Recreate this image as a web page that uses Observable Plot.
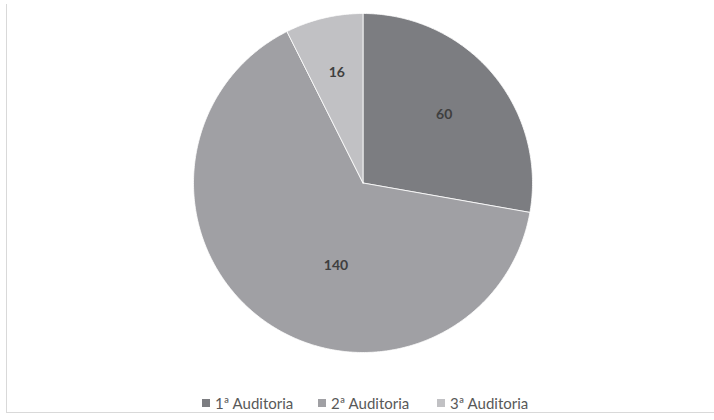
<!DOCTYPE html>
<html>
<head>
<meta charset="utf-8">
<script src="https://cdn.jsdelivr.net/npm/d3@7"></script>
<script src="https://cdn.jsdelivr.net/npm/@observablehq/plot@0.6"></script>
<style>
  html, body { margin: 0; padding: 0; background: #fff; }
  #wrap { position: relative; width: 714px; height: 420px; overflow: hidden; background: #fff; }
  #frame { position: absolute; left: 6px; top: 4px; width: 720px; height: 408px;
           border-left: 1px solid #d9d9d9; border-bottom: 1px solid #d9d9d9; }
  #chart { position: absolute; left: 0; top: 0; }
  #legend { position: absolute; top: 394px; left: 0; width: 714px; height: 20px;
            font-family: Lato, "Open Sans", sans-serif; font-size: 15px; color: #595959; white-space: nowrap; }
  .item { position: absolute; top: 0; height: 18px; display: flex; align-items: center; }
  .sw { width: 8px; height: 8px; margin-right: 5px; }
</style>
</head>
<body>
<div id="wrap">
  <div id="frame"></div>
  <div id="chart"></div>
  <div id="legend"></div>
</div>
<script>
const categories = ["1ª Auditoria", "2ª Auditoria", "3ª Auditoria"];
const values = [60, 140, 16];
const colors = ["#7c7d81", "#a0a0a4", "#c1c1c4"];

// pie geometry (start at 12 o'clock, clockwise)
const pie = d3.pie().sort(null).value(d => d.value);
const arcs = pie(categories.map((c, i) => ({cat: c, value: values[i]})));

const outline = [];
arcs.forEach(a => {
  const n = Math.max(2, Math.ceil((a.endAngle - a.startAngle) / 0.01));
  outline.push({cat: a.data.cat, x: 0, y: 0});
  for (let k = 0; k <= n; k++) {
    const t = a.startAngle + (a.endAngle - a.startAngle) * k / n;
    outline.push({cat: a.data.cat, x: Math.sin(t), y: Math.cos(t)});
  }
  outline.push({cat: a.data.cat, x: 0, y: 0});
});

// label placement (Excel-like): radial fraction, with angle nudge for large slice
const labelR = [0.625, 0.51, 0.67];
const labelShift = [0, -18.5 * Math.PI / 180, 0];
const labels = arcs.map((a, i) => {
  const t = (a.startAngle + a.endAngle) / 2 + labelShift[i];
  return {x: labelR[i] * Math.sin(t), y: labelR[i] * Math.cos(t), text: String(a.data.value)};
});

const chart = Plot.plot({
  width: 714,
  height: 380,
  marginLeft: 193,
  marginRight: 182,
  marginTop: 13,
  marginBottom: 28,
  x: {domain: [-1, 1], axis: null},
  y: {domain: [-1, 1], axis: null},
  color: {domain: categories, range: colors},
  style: {background: "transparent"},
  marks: [
    Plot.line(outline, {x: "x", y: "y", z: "cat", fill: "cat", stroke: "#ffffff", strokeWidth: 0.8, curve: "linear"}),
    Plot.text(labels, {x: "x", y: "y", text: "text", fill: "#3f3f3f", fontWeight: "bold",
                       fontSize: 14, fontFamily: "Lato, 'Open Sans', sans-serif"})
  ]
});
document.getElementById("chart").appendChild(chart);

// legend below the chart
const legendLeft = [202, 318, 437];
const legend = document.getElementById("legend");
categories.forEach((c, i) => {
  const item = document.createElement("div");
  item.className = "item";
  item.style.left = legendLeft[i] + "px";
  const sw = document.createElement("div");
  sw.className = "sw";
  sw.style.background = colors[i];
  const tx = document.createElement("span");
  tx.textContent = c;
  item.appendChild(sw);
  item.appendChild(tx);
  legend.appendChild(item);
});
</script>
</body>
</html>
